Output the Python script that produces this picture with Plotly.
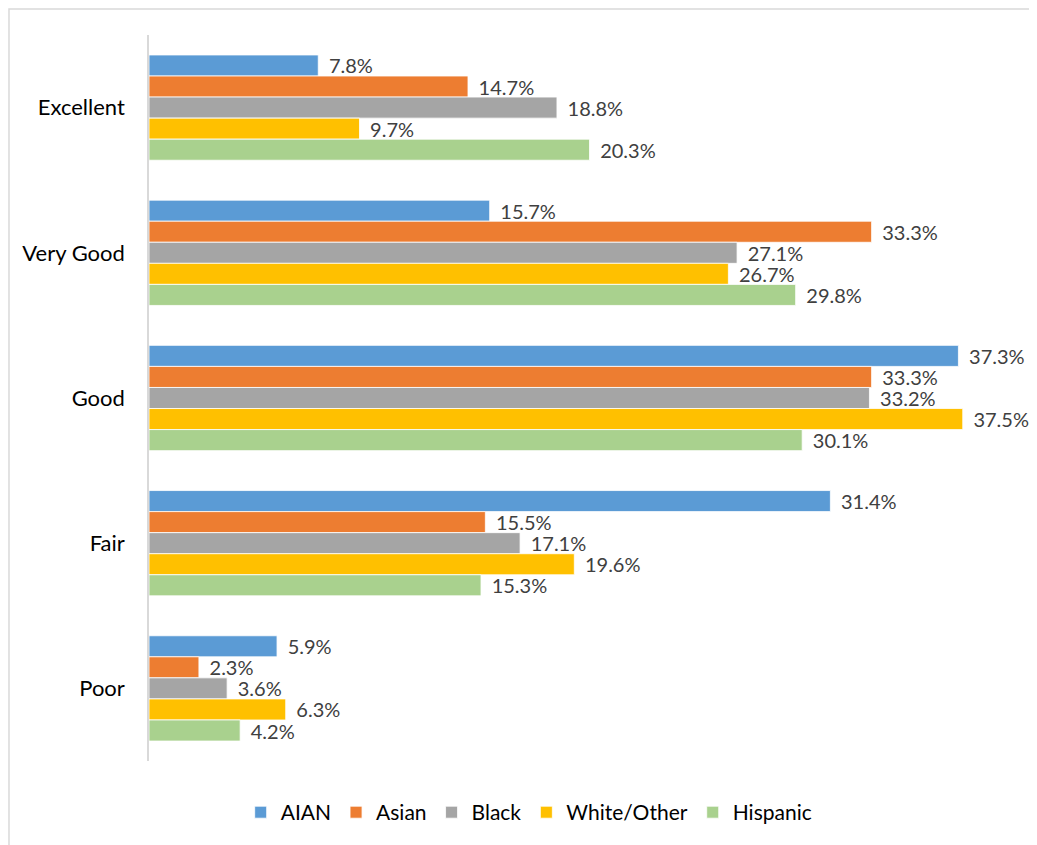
import plotly.graph_objects as go

categories = ["Excellent", "Very Good", "Good", "Fair", "Poor"]
series_names = ["AIAN", "Asian", "Black", "White/Other", "Hispanic"]
aian = [7.8, 15.7, 37.3, 31.4, 5.9]
asian = [14.7, 33.3, 33.3, 15.5, 2.3]
black = [18.8, 27.1, 33.2, 17.1, 3.6]
white_other = [9.7, 26.7, 37.5, 19.6, 6.3]
hispanic = [20.3, 29.8, 30.1, 15.3, 4.2]

series_values = [aian, asian, black, white_other, hispanic]
colors = ["#5B9BD5", "#ED7D31", "#A5A5A5", "#FFC000", "#A9D18E"]

FONT = "Lato, 'Open Sans', sans-serif"

fig = go.Figure()
for name, vals, col in zip(series_names, series_values, colors):
    fig.add_trace(go.Bar(
        name=name, y=categories, x=vals, orientation="h",
        marker=dict(color=col, line=dict(color="white", width=0.8)),
        text=[f"{v:.1f}%" for v in vals],
        texttemplate="\u00a0\u2009%{text}",
        textposition="outside",
        textfont=dict(family=FONT, size=20, color="#404040"),
        constraintext="none",
        cliponaxis=False,
        hoverinfo="skip",
    ))

fig.update_layout(
    width=1029, height=837,
    margin=dict(l=141, r=20, t=27, b=82),
    barmode="group", bargap=0.275, bargroupgap=0,
    plot_bgcolor="white", paper_bgcolor="white",
    font=dict(family=FONT, size=18, color="#000000"),
    uniformtext=dict(mode=False),
    xaxis=dict(range=[0, 40], showgrid=False, showticklabels=False,
               zeroline=False, showline=False, ticks=""),
    yaxis=dict(autorange="reversed", showgrid=False, zeroline=False,
               showline=True, linecolor="#D9D9D9", linewidth=1.5,
               ticks="", ticklabelstandoff=18,
               tickfont=dict(family=FONT, size=22, color="#000000")),
    legend=dict(orientation="h", x=0.438, xanchor="center", y=-0.071,
                yanchor="middle", font=dict(family=FONT, size=21, color="#000000"),
                itemwidth=30, tracegroupgap=0),
    showlegend=True,
    shapes=[dict(type="rect", xref="paper", yref="paper",
                 x0=-0.1613, x1=1.2, y0=-0.3, y1=1.0357,
                 line=dict(color="#D9D9D9", width=1.5), fillcolor="rgba(0,0,0,0)",
                 layer="below")],
)

fig.write_html("out.html")
